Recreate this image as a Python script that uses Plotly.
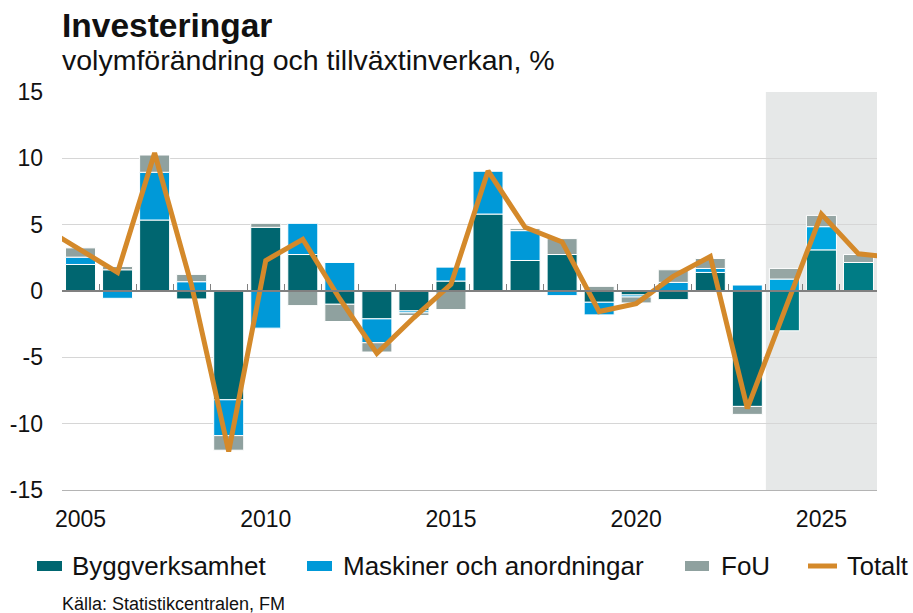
import plotly.graph_objects as go

# ---------------- data ----------------
years = list(range(2005, 2027))
bygg = [2.0, 1.6, 5.35, -0.6, -8.2, 4.8, 2.75, -1.0, -2.1, -1.5, 0.75, 5.8, 2.3, 2.75,
        -0.85, -0.3, -0.65, 1.4, -8.7, -3.0, 3.1, 2.15]
maskiner = [0.55, -0.55, 3.6, 0.7, -2.7, -2.8, 2.35, 2.15, -1.8, -0.15, 1.05, 3.25, 2.25, -0.35,
            -0.95, -0.15, 0.65, 0.3, 0.45, 0.9, 1.75, 0.0]
fou = [0.7, 0.25, 1.3, 0.55, -1.1, 0.3, -1.1, -1.3, -0.7, -0.2, -1.4, 0.0, 0.15, 1.2,
       0.35, -0.45, 0.95, 0.75, -0.6, 0.8, 0.85, 0.6]
totalt_years = list(range(2004, 2028))
totalt = [4.8, 3.05, 1.4, 10.4, 0.4, -12.1, 2.3, 3.9, -0.6, -4.7, -2.0, 0.5, 9.05, 4.8, 3.7,
          -1.55, -0.95, 1.1, 2.6, -8.85, -1.4, 5.8, 2.8, 2.5]
forecast_start = 2024
x_ticks = [2005, 2010, 2015, 2020, 2025]
y_ticks = [-15, -10, -5, 0, 5, 10, 15]
y_ticktext = ["-15", "-10", "-5", "0", "5", "10", "15"]

title = "Investeringar"
subtitle = "volymförändring och tillväxtinverkan, %"
source = "Källa: Statistikcentralen, FM"
names = ["Byggverksamhet", "Maskiner och anordningar", "FoU", "Totalt"]

# ---------------- styling ----------------
FONT = "Liberation Sans, Arial, sans-serif"
C_BYGG, C_BYGG_F = "#006670", "#007c85"
C_MASK, C_MASK_F = "#0099d8", "#00a6e0"
C_FOU, C_FOU_F = "#8fa19f", "#96a6a4"
C_TOT = "#d4892a"

W, H = 913, 613
# plot area in window pixels: x 62..877, y 92..490
ML, MT = 62, 92
MR = W - 877
MB = H - 490
PW, PH = W - ML - MR, H - MT - MB


def px_x(px):
    return (px - ML) / PW


def px_y(py):
    return (H - MB - py) / PH


def cols(base, fc):
    return [fc if y >= forecast_start else base for y in years]


fig = go.Figure()
for vals, base, fc, nm in [(bygg, C_BYGG, C_BYGG_F, names[0]),
                           (maskiner, C_MASK, C_MASK_F, names[1]),
                           (fou, C_FOU, C_FOU_F, names[2])]:
    fig.add_trace(go.Bar(x=years, y=vals, name=nm, showlegend=False,
                         marker=dict(color=cols(base, fc), line=dict(color="white", width=1))))

fig.add_trace(go.Scatter(x=totalt_years, y=totalt, name=names[3], mode="lines", showlegend=False,
                         xaxis="x2", line=dict(color=C_TOT, width=5, shape="linear")))

xr = [years[0] - 0.5, years[-1] + 0.5]
fig.update_layout(
    template="none",
    width=W, height=H,
    margin=dict(l=ML, r=MR, t=MT, b=MB, autoexpand=False),
    paper_bgcolor="white", plot_bgcolor="white",
    barmode="relative", bargap=0.19,
    font=dict(family=FONT, color="#111111"),
    xaxis=dict(range=xr, tickvals=x_ticks, showgrid=False, zeroline=False, ticks="",
               automargin=False, showline=True, linecolor="#b4b4b4", linewidth=1,
               tickfont=dict(size=23, color="#111111"), ticklabelstandoff=8),
    xaxis2=dict(range=xr, overlaying="x", anchor="free", position=0.5, side="bottom",
                automargin=False,
                tickvals=[y - 0.5 for y in years] + [years[-1] + 0.5], showticklabels=False,
                ticks="inside", ticklen=6, tickcolor="#808080", tickwidth=1,
                showline=True, linecolor="#808080", linewidth=1.5, showgrid=False, zeroline=False),
    yaxis=dict(range=[-15, 15], tickvals=y_ticks, ticktext=y_ticktext, showgrid=True,
               automargin=False, showline=False,
               gridcolor="#d6d6d6", gridwidth=1, zeroline=False, ticks="",
               tickfont=dict(size=23, color="#111111"), ticklabelstandoff=18),
    showlegend=False,
)

# forecast shading
fig.add_shape(type="rect", xref="x", yref="paper", x0=forecast_start - 0.5, x1=years[-1] + 0.5,
              y0=0, y1=1, fillcolor="#e6e8e8", line=dict(width=0), layer="below")

# title / subtitle / source
fig.add_annotation(text=f"<b>{title}</b>", xref="paper", yref="paper", x=px_x(60), y=px_y(25),
                   xanchor="left", yanchor="middle", showarrow=False,
                   font=dict(size=33.5, family=FONT, color="#111111"))
fig.add_annotation(text=subtitle, xref="paper", yref="paper", x=px_x(60), y=px_y(60),
                   xanchor="left", yanchor="middle", showarrow=False,
                   font=dict(size=28.5, family=FONT, color="#111111"))
fig.add_annotation(text=source, xref="paper", yref="paper", x=px_x(60), y=px_y(604),
                   xanchor="left", yanchor="middle", showarrow=False,
                   font=dict(size=18, family=FONT, color="#111111"))

# custom legend
leg_y = 566
legend_items = [
    (names[0], "rect", C_BYGG, 37, 62, 70),
    (names[1], "rect", C_MASK, 307, 332, 341),
    (names[2], "rect", C_FOU, 685, 709, 719),
    (names[3], "line", C_TOT, 808, 837, 845),
]
for nm, kind, col, x0, x1, tx in legend_items:
    if kind == "rect":
        fig.add_shape(type="rect", xref="paper", yref="paper", x0=px_x(x0), x1=px_x(x1),
                      y0=px_y(leg_y + 5), y1=px_y(leg_y - 5), fillcolor=col, line=dict(width=0))
    else:
        fig.add_shape(type="line", xref="paper", yref="paper", x0=px_x(x0), x1=px_x(x1),
                      y0=px_y(leg_y), y1=px_y(leg_y), line=dict(color=col, width=5))
    fig.add_annotation(text=nm, xref="paper", yref="paper", x=px_x(tx), y=px_y(leg_y),
                       xanchor="left", yanchor="middle", showarrow=False,
                       font=dict(size=26 if kind == "rect" else 25.5, family=FONT, color="#111111"))

fig.write_html("out.html", config={"displayModeBar": False},
               post_script="document.body.style.margin='0';document.body.style.overflow='hidden';")
